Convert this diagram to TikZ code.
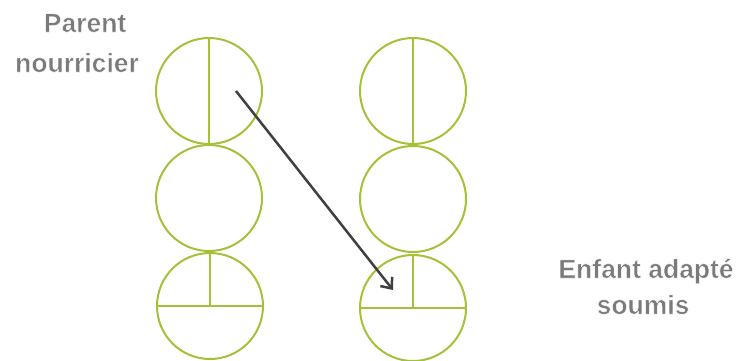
\documentclass[tikz,border=0pt]{standalone}
\usepackage{fontspec}
\setmainfont{Liberation Sans}
\usetikzlibrary{arrows.meta}
\definecolor{ringgreen}{HTML}{A3C23A}
\definecolor{arrowgray}{HTML}{404040}
\definecolor{labelgray}{HTML}{7A7A7A}
\newcommand{\outlinedtext}[1]{\special{pdf:literal direct 0.45 w 2 Tr 1 1 1 RG}#1\special{pdf:literal direct 0 Tr}}
\begin{document}
\begin{tikzpicture}[x=1pt,y=-1pt,
  ring/.style={circle,draw=ringgreen,line width=2pt,minimum size=106pt,inner sep=0pt},
  divider/.style={draw=ringgreen,line width=2pt},
  label/.style={font=\bfseries\fontsize{26.5}{30}\selectfont,text=labelgray,anchor=base,inner sep=0pt},
  link/.style={draw=arrowgray,line width=2.5pt,-{Straight Barb[length=9pt,width=15pt]}}]
\useasboundingbox (0,0) rectangle (741,360);
\node[ring] (L1) at (209,91) {};
\node[ring] (L2) at (209,198) {};
\node[ring] (L3) at (210,306) {};
\node[ring] (R1) at (413,91) {};
\node[ring] (R2) at (413,199) {};
\node[ring] (R3) at (413,308) {};
\draw[divider] (L1.north) -- (L1.south);
\draw[divider] (R1.north) -- (R1.south);
\draw[divider] (L3.north) -- (L3.center);
\draw[divider] (L3.west) -- (L3.east);
\draw[divider] (R3.north) -- (R3.center);
\draw[divider] (R3.west) -- (R3.east);
\coordinate (from) at (236,91);
\coordinate (to) at (393,290);
\draw[link] (from) -- (to);
\node[label] (p1) at (85,32) {\outlinedtext{Parent}};
\node[label] (p2) at (77,72) {\outlinedtext{nourricier}};
\node[label] (e1) at (646,278) {\outlinedtext{Enfant adapté}};
\node[label] (e2) at (643,314) {\outlinedtext{soumis}};
\end{tikzpicture}
\end{document}
